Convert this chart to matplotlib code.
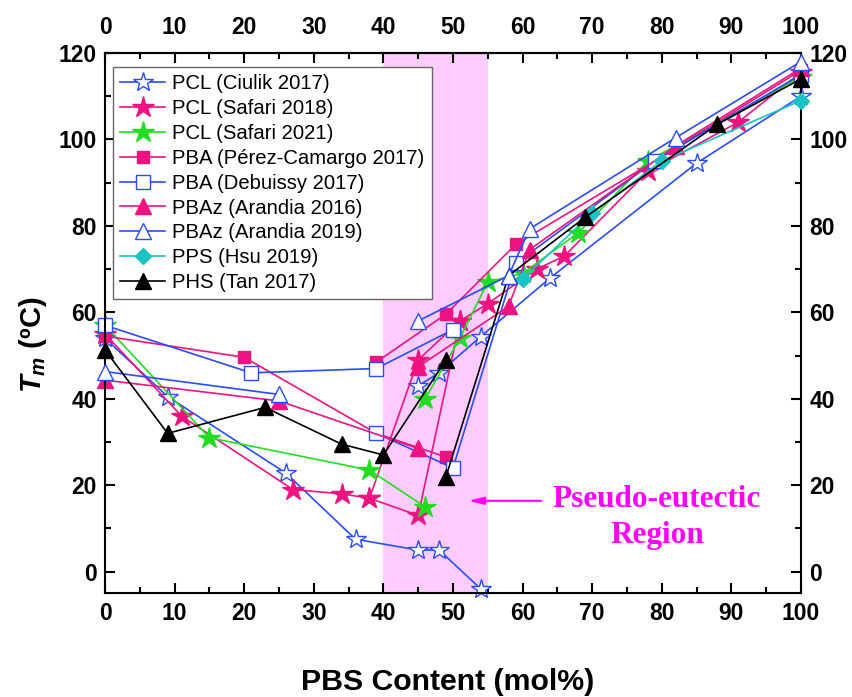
import matplotlib
matplotlib.use("Agg")
import matplotlib.pyplot as plt

plt.rcParams['font.family'] = ['Liberation Sans', 'DejaVu Sans']
plt.rcParams['mathtext.fontset'] = 'custom'
plt.rcParams['mathtext.it'] = 'Liberation Sans:italic:bold'
plt.rcParams['mathtext.rm'] = 'Liberation Sans:bold'
plt.rcParams['mathtext.bf'] = 'Liberation Sans:bold'

# Datos (PBS mol%, Tm en ºC)
ciulik_lo_x = [0, 9, 26, 36, 45, 48, 54]
ciulik_lo_y = [54, 40.5, 22.8, 7.5, 5, 5, -4]
ciulik_hi_x = [45, 48, 54, 64, 85, 100]
ciulik_hi_y = [43, 46, 54.4, 68, 94.5, 110]

safari18_lo_x = [0, 11, 27, 34, 38, 45, 51, 55, 62, 66, 78, 91, 100]
safari18_lo_y = [55, 36, 19, 18, 17, 13, 58, 62, 70, 73, 92.6, 104, 115.5]
safari18_hi_x = [38, 45, 51]
safari18_hi_y = [17, 49, 58]

safari21_lo_x = [0, 15, 38, 46]
safari21_lo_y = [57, 31, 23.5, 15]
safari21_hi_x = [46, 51, 55, 60, 68, 78, 100]
safari21_hi_y = [40, 54, 67, 69, 78.4, 95, 114.5]

perez_lo_x = [0, 20, 39, 49]
perez_lo_y = [54.5, 49.6, 32, 26.5]
perez_hi_x = [39, 49, 59, 79, 100]
perez_hi_y = [48.5, 59.6, 75.7, 95, 116]

debuissy_lo_x = [0, 21, 39, 50]
debuissy_lo_y = [57, 46, 47, 56]
debuissy_hi_x = [39, 50, 59, 79, 100]
debuissy_hi_y = [32, 24, 71.3, 95, 115]

arandia16_lo_x = [0, 25, 45]
arandia16_lo_y = [44.3, 39.5, 28.5]
arandia16_hi_x = [45, 58, 61, 82, 100]
arandia16_hi_y = [47.4, 61.4, 74.5, 98.5, 116.5]

arandia19_lo_x = [0, 25]
arandia19_lo_y = [46.3, 41]
arandia19_hi_x = [45, 58, 61, 82, 100]
arandia19_hi_y = [58, 68.5, 79.3, 100.4, 118]

pps_x = [60, 70, 80, 100]
pps_y = [67.7, 83, 95, 109]

phs_lo_x = [0, 9, 23, 34, 40, 49]
phs_lo_y = [51.3, 32, 38, 29.5, 27, 49]
phs_hi_x = [49, 58, 69, 88, 100]
phs_hi_y = [22, 68.5, 82, 103.5, 114]

azul = '#2A4BFF'
rosa = '#EE1380'
verde = '#22DD22'
cian = '#19C3C3'

series = [
    ('PCL (Ciulik 2017)', ciulik_lo_x, ciulik_lo_y, ciulik_hi_x, ciulik_hi_y, azul, '*', 'white', 15),
    ('PCL (Safari 2018)', safari18_lo_x, safari18_lo_y, safari18_hi_x, safari18_hi_y, rosa, '*', rosa, 16),
    ('PCL (Safari 2021)', safari21_lo_x, safari21_lo_y, safari21_hi_x, safari21_hi_y, verde, '*', verde, 16),
    ('PBA (Pérez-Camargo 2017)', perez_lo_x, perez_lo_y, perez_hi_x, perez_hi_y, rosa, 's', rosa, 9),
    ('PBA (Debuissy 2017)', debuissy_lo_x, debuissy_lo_y, debuissy_hi_x, debuissy_hi_y, azul, 's', 'white', 10),
    ('PBAz (Arandia 2016)', arandia16_lo_x, arandia16_lo_y, arandia16_hi_x, arandia16_hi_y, rosa, '^', rosa, 11),
    ('PBAz (Arandia 2019)', arandia19_lo_x, arandia19_lo_y, arandia19_hi_x, arandia19_hi_y, azul, '^', 'white', 11),
    ('PPS (Hsu 2019)', pps_x, pps_y, None, None, cian, 'D', cian, 8),
    ('PHS (Tan 2017)', phs_lo_x, phs_lo_y, phs_hi_x, phs_hi_y, 'black', '^', 'black', 11),
]

fig = plt.figure(figsize=(8.53, 6.97), dpi=100)
ax = fig.add_axes([0.1231, 0.1488, 0.8159, 0.7752])

ax.axvspan(40, 55, color='#FFCCFF', zorder=0, lw=0)

for i, (nombre, xa, ya, xb, yb, col, mk, fc, ms) in enumerate(series):
    z = 2 + i * 0.1
    ax.plot(xa, ya, color=col, lw=1.2, marker=mk, ms=ms, mfc=fc, mec=col,
            mew=1.0, label=nombre, clip_on=False, zorder=z)
    if xb is not None:
        # la rama de Arandia 2019 queda por encima en el original
        zb = 3.5 if nombre.startswith('PBAz (Arandia 2019') else z
        ax.plot(xb, yb, color=col, lw=1.2, marker=mk, ms=ms, mfc=fc, mec=col,
                mew=1.0, clip_on=False, zorder=zb)

ax.set_xlim(0, 100)
ax.set_ylim(-5, 120)
ax.set_xticks(range(0, 101, 10))
ax.set_xticks(range(0, 101, 5), minor=True)
ax.set_yticks(range(0, 121, 20))
ax.set_yticks(range(0, 121, 10), minor=True)

ax.tick_params(axis='both', which='both', direction='in', top=False, right=True,
               labelright=True, width=1.5)
ax.tick_params(axis='both', which='major', length=7, labelsize=16.5, pad=6)
ax.tick_params(axis='both', which='minor', length=4)
for sp in ax.spines.values():
    sp.set_linewidth(1.5)

# eje superior con su propio espaciado
top = ax.secondary_xaxis('top')
top.set_xticks(range(0, 101, 10))
top.set_xticks(range(0, 101, 5), minor=True)
top.tick_params(which='both', direction='in', width=1.5)
top.tick_params(which='major', length=7, labelsize=16.5, pad=10)
top.tick_params(which='minor', length=4)
top.spines['top'].set_linewidth(1.5)

for t in ax.xaxis.get_major_ticks() + ax.yaxis.get_major_ticks() + top.xaxis.get_major_ticks():
    t.label1.set_fontweight('bold')
    t.label2.set_fontweight('bold')

ax.set_xlabel('PBS Content (mol%)', fontsize=21.8, fontweight='bold')
ax.xaxis.set_label_coords(0.493, -0.139)
ax.set_ylabel(r'$T_m$ (ºC)', fontsize=21, fontweight='bold')
ax.yaxis.set_label_coords(-0.08, 0.46)

ax.annotate('', xy=(52.2, 16.4), xytext=(62.7, 16.4),
            arrowprops=dict(arrowstyle='-|>,head_length=0.9,head_width=0.22',
                            color='#FF00FF', lw=1.5, shrinkA=0, shrinkB=0))
ax.text(79.3, 12.5, 'Pseudo-eutectic\nRegion', ha='center', va='center',
        color='#FF00FF', fontsize=22.5, fontweight='bold', family='Liberation Serif',
        linespacing=1.3)

leg = ax.legend(loc='upper left', bbox_to_anchor=(0.011, 0.974), borderaxespad=0,
                fontsize=14.6, labelspacing=0.29, handlelength=2.25, handletextpad=0.35,
                borderpad=0.35, fancybox=False, framealpha=1, edgecolor='#666666')
leg.get_frame().set_linewidth(1.0)

plt.savefig('out.png', dpi=100)
